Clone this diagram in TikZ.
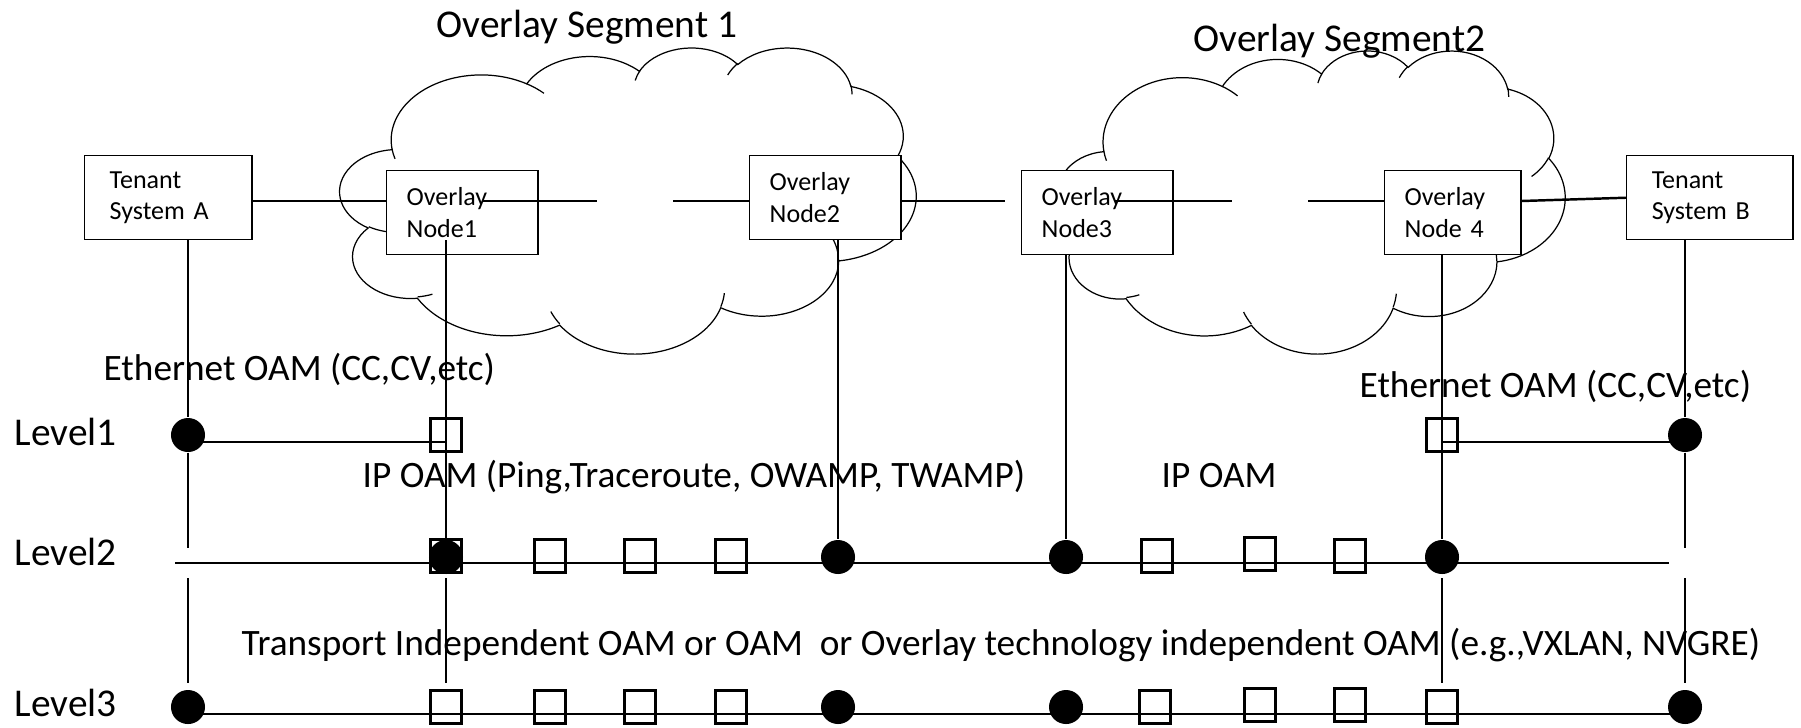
\documentclass[tikz,border=0pt]{standalone}
\usepackage{fontspec}
\setmainfont{Carlito}
\usepackage{tikz}

\tikzset{
  box/.style={draw, fill=white, line width=0.4pt, anchor=north west, align=left,
    inner xsep=0.2cm, inner ysep=0pt, minimum height=0.84cm, text width=#1,
    font=\fontsize{7.4}{9}\selectfont},
  tenant/.style={box=#1, inner xsep=0.25cm},
  dot/.style={circle, fill=black, inner sep=0pt, minimum size=0.34cm},
  sq/.style={draw, line width=0.6pt, inner sep=0pt, minimum width=0.31cm, minimum height=0.33cm},
  lbl/.style={anchor=base west, inner sep=0pt, font=\fontsize{10.6}{12}\selectfont},
  head/.style={anchor=base west, inner sep=0pt, font=\fontsize{11.2}{13}\selectfont},
  link/.style={line width=0.7pt},
  rail/.style={line width=0.6pt},
  drop/.style={line width=0.5pt},
  cloudline/.style={line width=0.35pt},
  % arc given as in a drawingml arcTo: wR, hR, start angle, sweep
  ooarc/.code n args={4}{%
    \pgfmathsetmacro\ooa{atan2(#1*sin(#3), #2*cos(#3))}%
    \pgfmathsetmacro\oob{atan2(#1*sin(#3+#4), #2*cos(#3+#4))}%
    \pgfmathsetmacro\oob{\oob<\ooa ? \oob+360 : \oob}%
    \edef\oodo{\noexpand\pgfkeysalso{x radius=#1, y radius=#2, start angle=\ooa, end angle=\oob}}%
    \oodo}
}

% cloud: top left x, top left y, width, height
\newcommand{\ovcloud}[4]{%
  \begin{scope}[shift={(#1,#2)}, x=#3*0.01cm/432, y=-#4*0.01cm/432, cloudline]
    \draw (39.00,143.70)
      \foreach \cwr/\chr/\cst/\csw in {67.53/91.90/-190.48748/123.78053,
          53.33/72.67/-144.10238/89.94523, 43.65/59.45/-145.80792/99.72302,
          48.57/65.95/-130.98607/117.24173, 53.33/72.73/-78.70888/109.02692,
          67.75/92.20/-46.26725/130.269, 57.85/78.67/0.62502/114.03333,
          67.52/92.15/22.4516/115.17255, 77.20/105.43/66.24263/75.71102,
          43.60/59.18/-274.94208/146.73557, 43.45/59.45/-246.8285/152.51885}
        { arc[ooarc={\cwr}{\chr}{\cst}{\csw}] } -- cycle;
    \foreach \cpx/\cpy/\cwr/\chr/\cst/\csw in {46.93/261.77/43.45/59.45/86.742/26.4295,
        69.28/348.99/43.60/59.18/73.61047/11.44747,
        164.78/390.90/67.52/92.15/137.62415/14.0811,
        288.27/347.51/67.52/92.15/6.45327/15.99835,
        341.29/229.54/57.85/78.67/-70.29235/70.91737,
        417.98/153.54/53.33/72.73/30.31803/27.7515,
        383.24/54.26/48.57/65.95/-13.74433/14.8589,
        290.78/39.52/48.57/65.95/-149.18145/18.19537,
        221.41/47.20/43.65/59.45/-163.49427/17.68635,
        140.00/51.92/67.53/91.90/-66.70695/12.31935,
        41.27/157.89/67.53/91.90/157.65435/11.85817}
      \draw (\cpx,\cpy) arc[ooarc={\cwr}{\chr}{\cst}{\csw}];
  \end{scope}}

\begin{document}
\begin{tikzpicture}[x=0.01cm, y=-0.01cm]
\useasboundingbox (0,0) rectangle (1801,727);

% the two overlay clouds
  \ovcloud{340}{47}{576}{306}
  \ovcloud{1058}{50}{507}{303}
  \node[head] (seg1) at (436,37) {Overlay Segment 1};
  \node[head] (seg2) at (1193,51) {Overlay Segment2};

% systems and overlay nodes
  \node[tenant=1.17cm] (tsa) at (84,155) {Tenant\\System A};
  \node[box=1.11cm] (on1) at (386,170) {Overlay\\Node1};
  \node[box=1.11cm] (on2) at (749,155) {Overlay\\Node2};
  \node[box=1.11cm] (on3) at (1021,170) {Overlay\\Node3};
  \node[box=0.96cm] (on4) at (1384,170) {Overlay\\Node 4};
  \node[tenant=1.16cm] (tsb) at (1626,155) {Tenant\\System B};

% labels
  \node[lbl] (eth1) at (103,380) {Ethernet OAM (CC,CV,etc)};
  \node[lbl] (eth2) at (1359,397) {Ethernet OAM (CC,CV,etc)};
  \node[lbl] (ip1) at (362,487) {IP OAM (Ping,Traceroute, OWAMP, TWAMP)};
  \node[lbl] (ip2) at (1161,487) {IP OAM};
  \node[lbl] (tio) at (241,655) {Transport Independent OAM or OAM\ \ or Overlay technology independent OAM (e.g.,VXLAN, NVGRE)};
  \node[head] (lv1) at (14,445) {Level1};
  \node[head] (lv2) at (14,565) {Level2};
  \node[head] (lv3) at (14,716) {Level3};

% level 1 end points
  \node[dot] (a1) at (188,435) {};
  \node[sq] (n1a) at (446,435) {};
  \node[sq] (n4a) at (1442,435) {};
  \node[dot] (b1) at (1685,435) {};

% level 2 end points
  \node[sq] (q20) at (446,556) {};
  \node[dot] (d21) at (446,557) {};
  \foreach \x [count=\i] in {550,640,731}
    \node[sq] (q2\i) at (\x,556) {};
  \node[dot] (d22) at (838,557) {};
  \node[dot] (d23) at (1066,557) {};
  \node[sq] (q24) at (1157,556) {};
  \node[sq] (q25) at (1260,554) {};
  \node[sq] (q26) at (1350,556) {};
  \node[dot] (d24) at (1442,557) {};

% level 3 end points
  \node[dot] (a3) at (188,707) {};
  \foreach \x [count=\i] in {446,550,640,731}
    \node[sq] (q3\i) at (\x,707) {};
  \node[dot] (d32) at (838,707) {};
  \node[dot] (d33) at (1066,707) {};
  \node[sq] (q35) at (1155,707) {};
  \node[sq] (q36) at (1260,705) {};
  \node[sq] (q37) at (1350,705) {};
  \node[sq] (q38) at (1442,707) {};
  \node[dot] (b3) at (1685,707) {};

% helper coordinates
  \coordinate (row) at (0,201);
  \coordinate (r1) at (0,442);
  \coordinate (r3) at (0,714);
  \coordinate (gt) at (0,548);
  \coordinate (gb) at (0,578);
  \coordinate (ge) at (0,683);
  \coordinate (r2s) at (175,563);
  \coordinate (r2e) at (1669,563);
  \coordinate (h1) at (482,201);
  \coordinate (h2) at (597,201);
  \coordinate (h3) at (673,201);
  \coordinate (h4) at (1005,201);
  \coordinate (h5) at (1115,201);
  \coordinate (h6) at (1232,201);
  \coordinate (h7) at (1308,201);

% Draw the links
  \draw[link] (tsa.east |- row) -- (on1.west |- row);
  \draw[link] (h1) -- (h2);
  \draw[link] (h3) -- (on2.west |- row);
  \draw[link] (on2.east |- row) -- (h4);
  \draw[link] (h5) -- (h6);
  \draw[link] (h7) -- (on4.west |- row);
  \draw[link] (on4.east |- row) -- (tsb.west);

% Draw the drops
  \draw[drop] (tsa.south -| a1) -- (a1) -- (a1 |- gt);
  \draw[drop] (a1 |- gb) -- (a1 |- ge);
  \draw[drop] (n1a |- tsa.south) -- (d21);
  \draw[drop] (d21 |- gb) -- (d21 |- ge);
  \draw[drop] (on2.south -| d22) -- (d22);
  \draw[drop] (on3.south -| d23) -- (d23);
  \draw[drop] (on4.south -| d24) -- (d24);
  \draw[drop] (d24 |- gb) -- (d24 |- ge);
  \draw[drop] (tsb.south -| b1) -- (b1) -- (b1 |- gt);
  \draw[drop] (b1 |- gb) -- (b1 |- ge);

% Draw the levels
  \draw[rail] (a1 |- r1) -- (n1a |- r1);
  \draw[rail] (n4a |- r1) -- (b1 |- r1);
  \draw[rail] (r2s) -- (r2e);
  \draw[rail] (a3 |- r3) -- (b3 |- r3);
\end{tikzpicture}
\end{document}
